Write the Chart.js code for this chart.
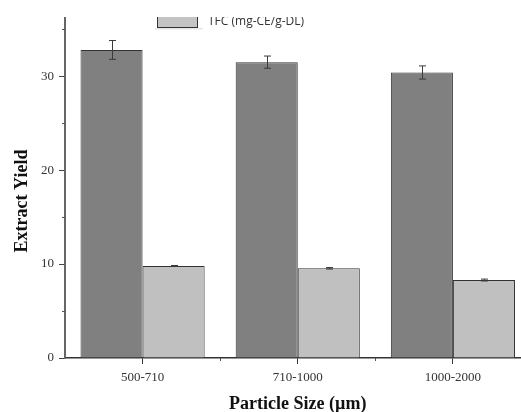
<!DOCTYPE html>
<html>
<head>
<meta charset="utf-8">
<script src="https://cdn.jsdelivr.net/npm/chart.js@4.4.1/dist/chart.umd.min.js"></script>
<style>
  html, body { margin: 0; padding: 0; background: #fff; overflow: hidden; width: 521px; height: 412px; }
  #wrap { position: relative; width: 521px; height: 412px; overflow: hidden; }
  canvas { position: absolute; left: 0; top: 0; }
</style>
</head>
<body>
<div id="wrap"><canvas id="c" width="540" height="412"></canvas></div>
<script>
const categories = ['500-710', '710-1000', '1000-2000'];
const yieldValues = [32.8, 31.5, 30.4];
const yieldErrors = [1.0, 0.65, 0.7];
const tfcValues = [9.8, 9.55, 8.3];
const tfcErrors = [0.05, 0.08, 0.1];
const yieldLabel = 'Extract Yield (%)';
const tfcLabel = 'TFC (mg-CE/g-DL)';
const xTitle = 'Particle Size (\u00b5m)';
const yTitle = 'Extract Yield';

const SERIF = '"Liberation Serif", "Times New Roman", serif';

const errorBarPlugin = {
  id: 'errorBars',
  afterDatasetsDraw(chart) {
    const ctx = chart.ctx;
    const y = chart.scales.y;
    const errs = [yieldErrors, tfcErrors];
    ctx.save();
    ctx.strokeStyle = '#3a3a3a';
    ctx.lineWidth = 1;
    chart.data.datasets.forEach((ds, di) => {
      const meta = chart.getDatasetMeta(di);
      meta.data.forEach((bar, i) => {
        const v = ds.data[i], e = errs[di][i];
        const x = Math.round(bar.x) + 0.5;
        const yt = y.getPixelForValue(v + e), yb = y.getPixelForValue(v - e);
        ctx.beginPath();
        ctx.moveTo(x, yt); ctx.lineTo(x, yb);
        ctx.moveTo(x - 3.5, yt); ctx.lineTo(x + 3.5, yt);
        ctx.moveTo(x - 3.5, yb); ctx.lineTo(x + 3.5, yb);
        ctx.stroke();
      });
    });
    ctx.restore();
  }
};

const decorPlugin = {
  id: 'decor',
  afterDraw(chart) {
    const ctx = chart.ctx;
    const xs = chart.scales.x, ys = chart.scales.y;
    const area = chart.chartArea;
    ctx.save();
    // minor ticks on y axis
    ctx.strokeStyle = '#555';
    ctx.lineWidth = 1;
    for (let v = 5; v < ys.max; v += 10) {
      const py = Math.round(ys.getPixelForValue(v)) + 0.5;
      ctx.beginPath(); ctx.moveTo(area.left - 3, py); ctx.lineTo(area.left, py); ctx.stroke();
    }
    // minor ticks between categories on x axis
    for (let i = 0; i < categories.length - 1; i++) {
      const px = Math.round((xs.getPixelForValue(i) + xs.getPixelForValue(i + 1)) / 2) + 0.5;
      ctx.beginPath(); ctx.moveTo(px, area.bottom); ctx.lineTo(px, area.bottom + 3); ctx.stroke();
    }
    // axis titles
    ctx.fillStyle = '#111';
    ctx.font = 'bold 18px ' + SERIF;
    ctx.textAlign = 'center';
    ctx.textBaseline = 'middle';
    ctx.fillText(xTitle, (area.left + area.right) / 2, 404);
    ctx.save();
    ctx.translate(22, 201);
    ctx.rotate(-Math.PI / 2);
    ctx.fillText(yTitle, 0, 0);
    ctx.restore();
    // legend (clipped at top like the reference)
    ctx.beginPath();
    ctx.rect(0, 17, chart.width, 30);
    ctx.clip();
    ctx.fillStyle = '#e6e6e6';
    ctx.fillRect(155, 28, 48, 1.5);
    ctx.fillStyle = '#c4c4c4';
    ctx.fillRect(157.5, 15.5, 40, 12);
    ctx.strokeStyle = '#333';
    ctx.lineWidth = 1;
    ctx.strokeRect(157.5, 15.5, 40, 12);
    ctx.fillStyle = '#333';
    ctx.font = '12px "Open Sans", "Liberation Sans", sans-serif';
    ctx.textAlign = 'left';
    ctx.textBaseline = 'alphabetic';
    ctx.fillText(tfcLabel, 208, 25);
    ctx.restore();
  }
};

new Chart(document.getElementById('c'), {
  type: 'bar',
  data: {
    labels: categories,
    datasets: [
      { label: yieldLabel, data: yieldValues, backgroundColor: '#808080', borderColor: '#333', borderWidth: 1 },
      { label: tfcLabel, data: tfcValues, backgroundColor: '#c0c0c0', borderColor: '#333', borderWidth: 1 }
    ]
  },
  options: {
    responsive: false,
    animation: false,
    devicePixelRatio: 1,
    layout: { padding: { top: 18, right: 9.5, left: 0, bottom: 0 } },
    datasets: { bar: { categoryPercentage: 0.8, barPercentage: 1.0 } },
    plugins: { legend: { display: false }, tooltip: { enabled: false } },
    scales: {
      x: {
        afterFit(scale) { scale.height = 54; },
        grid: { display: true, drawOnChartArea: false, offset: false, tickLength: 6, color: '#333', tickColor: '#333' },
        border: { display: true, color: '#333', width: 1.5 },
        ticks: { color: '#333', font: { family: SERIF, size: 13 }, padding: 6, maxRotation: 0 }
      },
      y: {
        min: 0,
        max: 36.2,
        afterFit(scale) { scale.width = 65; },
        grid: {
          display: true, drawOnChartArea: false, tickLength: 6,
          tickColor: (c) => (c.tick && c.tick.value % 10 === 0) ? '#444' : 'rgba(0,0,0,0)'
        },
        border: { display: true, color: '#666', width: 2 },
        ticks: {
          stepSize: 5,
          includeBounds: false,
          color: '#333',
          padding: 5,
          font: { family: SERIF, size: 13 },
          callback: (v) => (v % 10 === 0 ? String(v) : '')
        }
      }
    }
  },
  plugins: [errorBarPlugin, decorPlugin]
});
</script>
</body>
</html>
